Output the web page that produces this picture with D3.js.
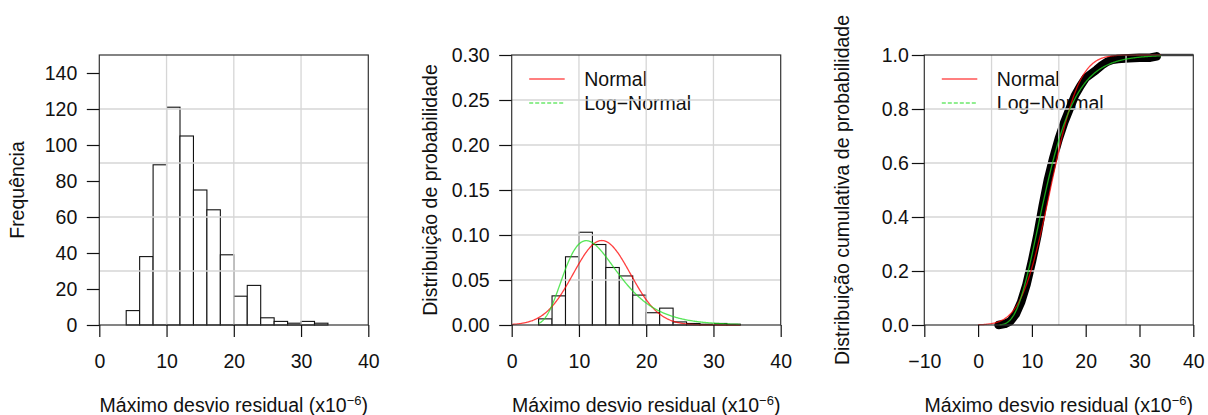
<!DOCTYPE html>
<html>
<head>
<meta charset="utf-8">
<script src="https://cdn.jsdelivr.net/npm/d3@7"></script>
<style>
  body { margin: 0; background: #fff; }
  text { font-family: "Liberation Sans", Arial, sans-serif; fill: #111; }
</style>
</head>
<body>
<svg id="fig" width="1208" height="415"></svg>
<script>
// histogram of the maximum residual deviation (bins of width 2)
var binStarts = [4, 6, 8, 10, 12, 14, 16, 18, 20, 22, 24, 26, 28, 30, 32];
var binWidth = 2;
var counts = [8, 38, 89, 121, 105, 75, 64, 39, 16, 22, 4, 2, 1, 2, 1];

// fitted distributions (parameters)
var normalMean = 13.4, normalSd = 4.25;
var lognormMeanlog = 2.535, lognormSdlog = 0.36;
var curveRange = [0, 34];     // red curve drawn over this range
var lognormRange = [4, 34];   // green curve drawn over this range

var ecdfX = [3.8, 5, 6, 7, 8, 9, 10, 11, 12, 13, 14, 15, 16, 17, 18, 19, 20, 21, 22, 23, 24, 25, 26, 28, 30, 32, 33.2];
var ecdfF = [0, 0.004, 0.014, 0.04, 0.085, 0.15, 0.235, 0.33, 0.44, 0.54, 0.62, 0.69, 0.75, 0.80, 0.85, 0.885, 0.915, 0.93, 0.945, 0.962, 0.975, 0.982, 0.985, 0.988, 0.99, 0.99, 0.995];

// axes
var xTicksA = [0, 10, 20, 30, 40];
var xTicksC = [-10, 0, 10, 20, 30, 40];
var yTicksFreq = [0, 20, 40, 60, 80, 100, 120, 140];
var yTicksDens = [0, 0.05, 0.10, 0.15, 0.20, 0.25, 0.30];
var yTicksCdf = [0, 0.2, 0.4, 0.6, 0.8, 1.0];
var legendLabels = ["Normal", "Log\u2212Normal"];

var W = 269, H = 270, top0 = 55;
var FS = 19.5;
var red = "#ff0000", green = "#22dd22";

var svg = d3.select("#fig");
var nObs = d3.sum(counts);

function dnorm(v) {
  var z = (v - normalMean) / normalSd;
  return Math.exp(-0.5 * z * z) / (normalSd * Math.sqrt(2 * Math.PI));
}
function dlnorm(v) {
  var z = (Math.log(v) - lognormMeanlog) / lognormSdlog;
  return Math.exp(-0.5 * z * z) / (v * lognormSdlog * Math.sqrt(2 * Math.PI));
}
function erf(t) {
  var s = t < 0 ? -1 : 1; t = Math.abs(t);
  var k = 1 / (1 + 0.3275911 * t);
  var y = 1 - (((((1.061405429 * k - 1.453152027) * k) + 1.421413741) * k - 0.284496736) * k + 0.254829592) * k * Math.exp(-t * t);
  return s * y;
}
function pnorm(v) { return 0.5 * (1 + erf((v - normalMean) / (normalSd * Math.SQRT2))); }
function plnorm(v) { return 0.5 * (1 + erf((Math.log(v) - lognormMeanlog) / (lognormSdlog * Math.SQRT2))); }

function panel(x0, o) {
  var g = svg.append("g").attr("transform", "translate(" + x0 + "," + top0 + ")");
  var x = d3.scaleLinear().domain(o.xDomain).range([0, W]);
  var y = d3.scaleLinear().domain(o.yDomain).range([H, 0]);

  // legend goes first, the data is drawn over it
  if (o.legend) {
    var lg = g.append("g");
    legendLabels.forEach(function(d, i) {
      var ly = 24 + i * 24;
      lg.append("line").attr("x1", 17.5).attr("x2", 53).attr("y1", ly).attr("y2", ly)
        .attr("stroke", i ? green : red).attr("stroke-width", 1.2)
        .attr("stroke-dasharray", i ? "4,2" : null);
      lg.append("text").attr("x", 72.5).attr("y", ly + 7).style("font-size", FS + "px").text(d);
    });
  }

  if (o.draw) o.draw(g, x, y);

  // grid
  g.append("g").selectAll("line").data(o.gridX).enter().append("line")
    .attr("x1", x).attr("x2", x).attr("y1", 0).attr("y2", H)
    .attr("stroke", "#d6d6d6").attr("stroke-width", 1.3);
  g.append("g").selectAll("line").data(o.gridY).enter().append("line")
    .attr("y1", y).attr("y2", y).attr("x1", 0).attr("x2", W)
    .attr("stroke", "#d6d6d6").attr("stroke-width", 1.3);

  if (o.curves) o.curves(g, x, y);

  // box
  g.append("rect").attr("width", W).attr("height", H)
    .attr("fill", "none").attr("stroke", "#333").attr("stroke-width", 1.2);

  var ax = g.append("g").attr("transform", "translate(0," + H + ")")
    .call(d3.axisBottom(x).tickValues(o.xTicks).tickSize(12).tickPadding(17).tickFormat(d3.format("d")));
  var ay = g.append("g")
    .call(d3.axisLeft(y).tickValues(o.yTicks).tickSize(12.5).tickPadding(o.yPad).tickFormat(d3.format(o.yFmt)));
  [ax, ay].forEach(function(a) {
    a.select(".domain").remove();
    a.selectAll("line").attr("stroke", "#111").attr("stroke-width", 1.2);
    a.selectAll("text").style("font-size", FS + "px").attr("fill", "#111")
      .style("font-family", "'Liberation Sans', Arial, sans-serif");
  });

  // axis titles
  var xl = g.append("text").attr("x", W / 2).attr("y", 356.7 - top0 + 0).attr("text-anchor", "middle")
    .attr("y", 411.7 - top0).style("font-size", FS + "px");
  xl.append("tspan").text("Máximo desvio residual (x10");
  xl.append("tspan").attr("dy", -7).style("font-size", "13px").text("\u22126");
  xl.append("tspan").attr("dy", 7).text(")");

  g.append("text").attr("transform", "translate(-75," + (H / 2) + ") rotate(-90)")
    .attr("text-anchor", "middle").style("font-size", FS + "px").text(o.yTitle);
}

var line = d3.line();

function histBars(g, x, y, value) {
  g.append("g").selectAll("rect").data(binStarts).enter().append("rect")
    .attr("x", function(d) { return x(d); })
    .attr("width", function(d) { return x(d + binWidth) - x(d); })
    .attr("y", function(d, i) { return y(value(counts[i])); })
    .attr("height", function(d, i) { return y(0) - y(value(counts[i])); })
    .attr("fill", "#fff").attr("stroke", "#111").attr("stroke-width", 1.1);
}

function fitCurves(g, x, y, fn1, fn2) {
  var xs1 = d3.range(curveRange[0], curveRange[1] + 0.001, 0.1);
  var xs2 = d3.range(lognormRange[0], lognormRange[1] + 0.001, 0.1);
  g.append("path").attr("d", line(xs1.map(function(v) { return [x(v), y(fn1(v))]; })))
    .attr("fill", "none").attr("stroke", red).attr("stroke-opacity", 0.75).attr("stroke-width", 1.3);
  g.append("path").attr("d", line(xs2.map(function(v) { return [x(v), y(fn2(v))]; })))
    .attr("fill", "none").attr("stroke", green).attr("stroke-opacity", 0.75).attr("stroke-width", 1.3);
}

// panel 1: frequency histogram
panel(99.3, {
  xDomain: [0, 40], yDomain: [0, 150],
  xTicks: xTicksA, yTicks: yTicksFreq, yFmt: "d", yPad: 9.5,
  gridX: [10, 20, 30], gridY: [30, 60, 90, 120],
  yTitle: "Frequência",
  draw: function(g, x, y) { histBars(g, x, y, function(c) { return c; }); }
});

// panel 2: density histogram with fitted pdfs
panel(511.7, {
  xDomain: [0, 40], yDomain: [0, 0.30],
  xTicks: xTicksA, yTicks: yTicksDens, yFmt: ".2f", yPad: 9.5,
  gridX: [10, 20, 30], gridY: [0.05, 0.10, 0.15, 0.20, 0.25],
  yTitle: "Distribuição de probabilidade", legend: true,
  draw: function(g, x, y) { histBars(g, x, y, function(c) { return c / (nObs * binWidth); }); },
  curves: function(g, x, y) { fitCurves(g, x, y, dnorm, dlnorm); }
});

// panel 3: empirical cdf with fitted cdfs
panel(924.3, {
  xDomain: [-10, 40], yDomain: [0, 1],
  xTicks: xTicksC, yTicks: yTicksCdf, yFmt: ".1f", yPad: 3,
  gridX: [2.5, 15, 27.5], gridY: [0.2, 0.4, 0.6, 0.8],
  yTitle: "Distribuição cumulativa de probabilidade", legend: true,
  draw: function(g, x, y) {
    g.append("line").attr("x1", x(ecdfX[ecdfX.length - 1])).attr("x2", x(40))
      .attr("y1", y(1)).attr("y2", y(1)).attr("stroke", "#555").attr("stroke-width", 2.5);
    g.append("path").attr("d", line(ecdfX.map(function(v, i) { return [x(v), y(ecdfF[i])]; })))
      .attr("fill", "none").attr("stroke", "#000").attr("stroke-width", 8.5)
      .attr("stroke-linejoin", "round").attr("stroke-linecap", "round");
  },
  curves: function(g, x, y) { fitCurves(g, x, y, pnorm, plnorm); }
});
</script>
</body>
</html>
